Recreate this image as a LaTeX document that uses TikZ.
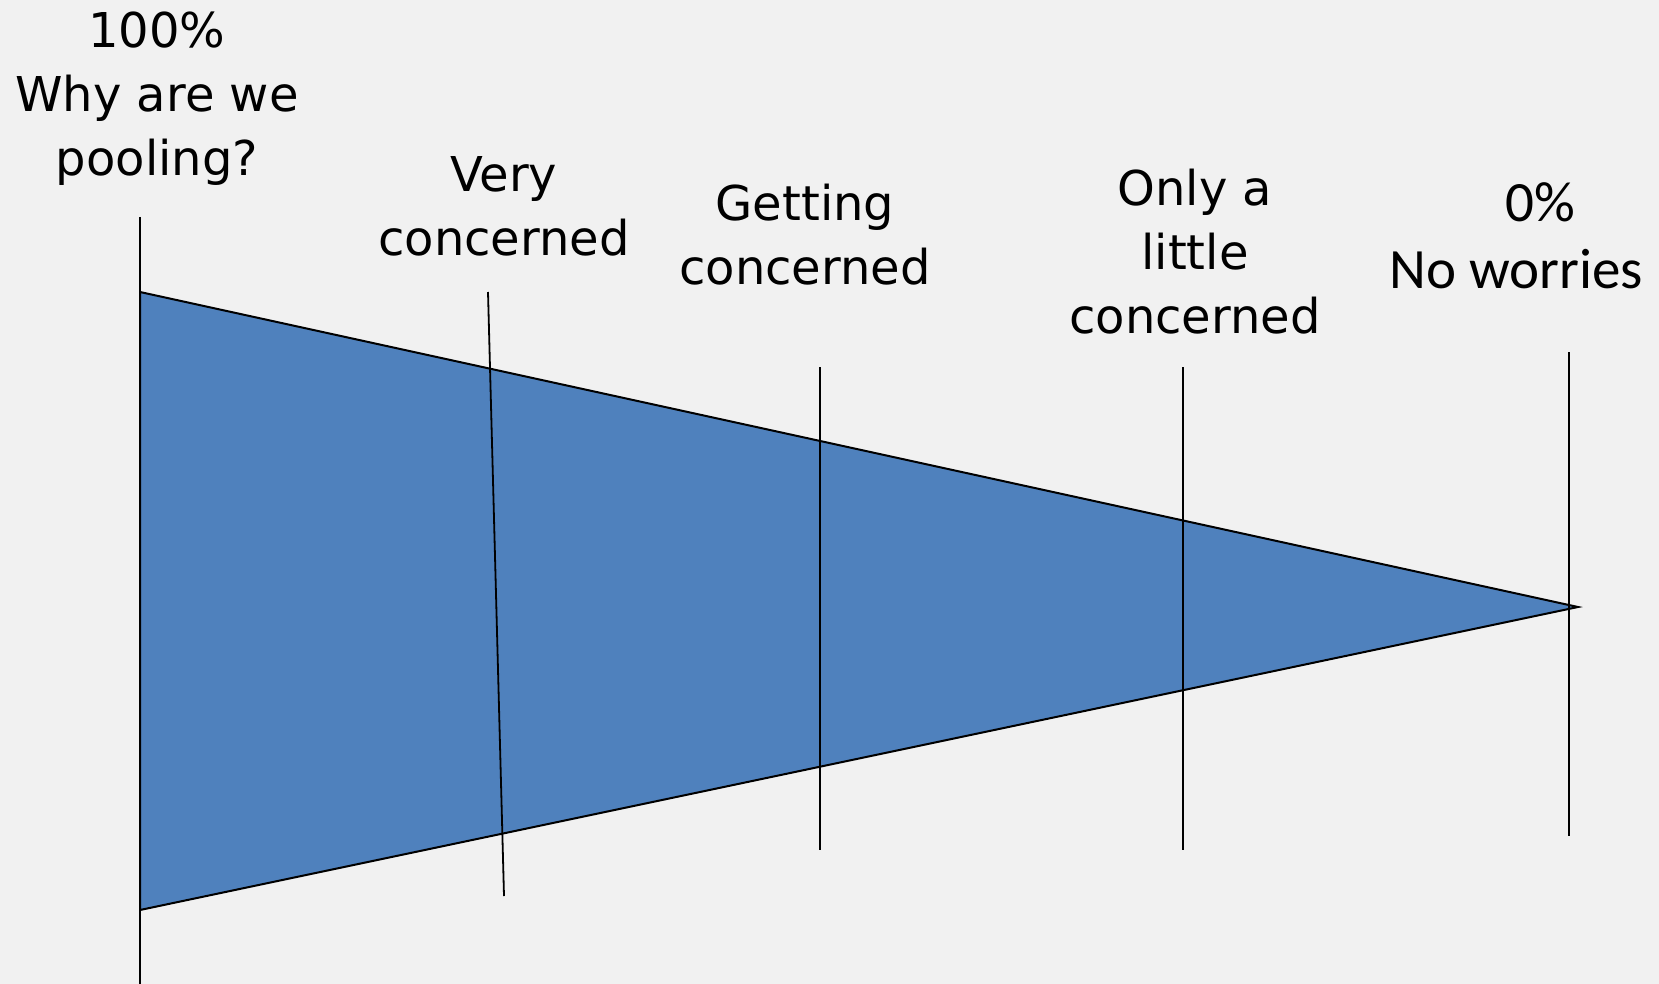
\documentclass[tikz,border=0pt]{standalone}
\usepackage{fontspec}
\setmainfont{DejaVu Sans}
\newfontfamily\calibrifont{Carlito}
\usepackage{xcolor}
\definecolor{pgback}{RGB}{241,241,241}
\definecolor{pgblue}{RGB}{79,129,189}
\usetikzlibrary{positioning}

\begin{document}
\begin{tikzpicture}[x=0.5pt, y=-0.5pt]
  %% Page
  \fill[pgback] (0,0) rectangle (1659,984);
  \useasboundingbox (0,0) rectangle (1659,984);

  %% Wedge corners
  \coordinate (tl)   at (140,292);
  \coordinate (bl)   at (140,910);
  \coordinate (apex) at (1578,607);

  %% Wedge
  \draw[line width=1pt, fill=pgblue] (tl) -- (apex) -- (bl) -- cycle;

  %% Marker ends
  \coordinate (m0t) at (140,217);   \coordinate (m0b) at (140,984);
  \coordinate (m1t) at (488,292);   \coordinate (m1b) at (504,896);
  \coordinate (m2t) at (820,367);   \coordinate (m2b) at (820,850);
  \coordinate (m3t) at (1183,367);  \coordinate (m3b) at (1183,850);
  \coordinate (m4t) at (1569,352);  \coordinate (m4b) at (1569,836);

  %% Markers
  \foreach \m in {m0,m1,m2,m3,m4}
    \draw[line width=0.9pt] (\m t) -- (\m b);

  %% Labels
  \node[font=\fontsize{24}{32}\selectfont, align=center] (full) at (157,99)
    {100\%\\Why are we\\pooling?};
  \node[font=\fontsize{24}{32}\selectfont, align=center] (very) at (504,206)
    {Very\\concerned};
  \node[font=\fontsize{24}{32}\selectfont, align=center] (getting) at (805,235)
    {Getting\\concerned};
  \node[font=\fontsize{24}{32}\selectfont, align=center] (little) at (1195,252)
    {Only a\\little\\concerned};
  \node[font=\calibrifont\fontsize{28.5}{33.5}\selectfont, align=center] (none) at (1516,236)
    {\hspace*{0.85em}0\%\\No worries};
\end{tikzpicture}
\end{document}
